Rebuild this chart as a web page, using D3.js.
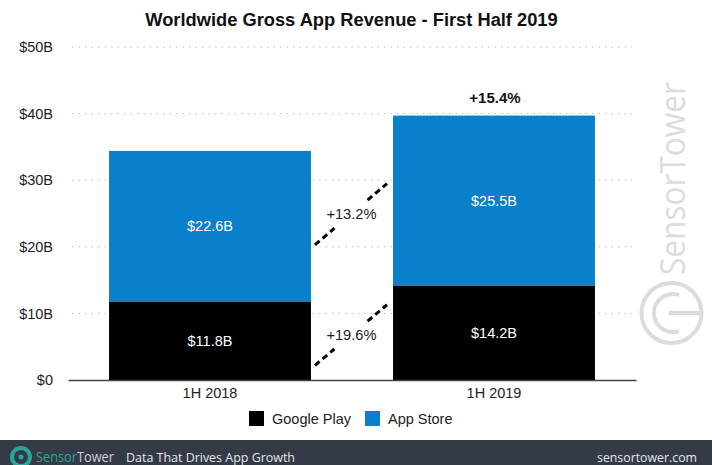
<!DOCTYPE html>
<html>
<head>
<meta charset="utf-8">
<script src="https://cdn.jsdelivr.net/npm/d3@7"></script>
<style>
    html, body { margin: 0; padding: 0; background: #fff; overflow: hidden; }
    text { font-family: "Liberation Sans", Arial, sans-serif; }
</style>
</head>
<body>
<div id="chart"></div>
<script>
const periods = ["1H 2018", "1H 2019"];
const seriesNames = ["Google Play", "App Store"];
const googlePlay = [11.8, 14.2];
const appStore = [22.6, 25.5];
const yTicks = [0, 10, 20, 30, 40, 50];
const growthTotal = "+15.4%";
const growthLabels = ["+19.6%", "+13.2%"];
// start and end of each growth connector, in $B
const connectorValues = [[2.2, 11.3], [20.3, 29.5]];
const connectorLabelValues = [6.8, 25];

const width = 712;
const height = 465;
const margin = { top: 47, bottom: 85, left: 68, right: 76 };
const colors = { "Google Play": "#000000", "App Store": "#0a7fcb" };

const svg = d3.select("#chart").append("svg")
    .attr("width", width)
    .attr("height", height);

const xScale = d3.scaleBand()
    .domain(periods)
    .range([margin.left, width - margin.right])
    .paddingInner(0.289)
    .paddingOuter(0.1445);

const yScale = d3.scaleLinear()
    .domain([0, 50])
    .range([height - margin.bottom, margin.top]);

// watermark
const mark = svg.append("g").attr("fill", "none").attr("stroke", "#dcdcdc");
mark.append("circle").attr("cx", 671.5).attr("cy", 313).attr("r", 30).attr("stroke-width", 4);
mark.append("path")
    .attr("d", "M679 295 A19 19 0 1 0 679 331")
    .attr("stroke-width", 4);
mark.append("path")
    .attr("d", "M671 313 H701")
    .attr("stroke-width", 4);
mark.append("circle").attr("cx", 671).attr("cy", 313).attr("r", 2.5).attr("fill", "#dcdcdc").attr("stroke", "none");
svg.append("text")
    .attr("transform", "translate(685,275) rotate(-90)")
    .attr("fill", "#dcdcdc")
    .attr("textLength", 193)
    .attr("lengthAdjust", "spacingAndGlyphs")
    .style("font-family", "'Open Sans', sans-serif")
    .style("font-size", "35px")
    .text("SensorTower");

// grid
svg.append("g").selectAll("line")
    .data(yTicks.filter(d => d > 0))
    .join("line")
    .attr("x1", margin.left + 4)
    .attr("x2", width - margin.right - 4)
    .attr("y1", d => yScale(d))
    .attr("y2", d => yScale(d))
    .attr("stroke", "#bdbdbd")
    .attr("stroke-width", 1)
    .attr("stroke-dasharray", "1.5 5");

// y axis labels
const yAxis = d3.axisLeft(yScale)
    .tickValues(yTicks)
    .tickSize(0)
    .tickPadding(15)
    .tickFormat(d => `$${d}${d === 0 ? "" : "B"}`);

svg.append("g")
    .attr("transform", `translate(${margin.left},0)`)
    .call(yAxis)
    .call(g => g.select(".domain").remove())
    .selectAll("text")
    .attr("fill", "#222")
    .style("font-size", "14.5px");

// stacked bars
const rows = periods.map((p, i) => ({ period: p, "Google Play": googlePlay[i], "App Store": appStore[i] }));
const stacked = d3.stack().keys(seriesNames)(rows);

const layers = svg.append("g").selectAll("g")
    .data(stacked)
    .join("g")
    .attr("fill", d => colors[d.key]);

layers.selectAll("rect")
    .data(d => d)
    .join("rect")
    .attr("x", d => xScale(d.data.period))
    .attr("width", xScale.bandwidth())
    .attr("y", d => yScale(d[1]))
    .attr("height", d => yScale(d[0]) - yScale(d[1]));

layers.selectAll("text")
    .data(d => d)
    .join("text")
    .attr("x", d => xScale(d.data.period) + xScale.bandwidth() / 2)
    .attr("y", d => yScale((d[0] + d[1]) / 2) + 5)
    .attr("text-anchor", "middle")
    .attr("fill", "#fff")
    .style("font-size", "14.5px")
    .text(d => `$${(d[1] - d[0]).toFixed(1)}B`);

// x axis
const xAxis = d3.axisBottom(xScale).tickSize(0).tickPadding(8);
svg.append("g")
    .attr("transform", `translate(0,${yScale(0)})`)
    .call(xAxis)
    .call(g => g.select(".domain").attr("stroke", "#444").attr("stroke-width", 1.5))
    .selectAll("text")
    .attr("fill", "#222")
    .style("font-size", "14.5px");

// growth connectors, broken around the label
const connectorLeft = xScale(periods[0]) + xScale.bandwidth() + 4;
const connectorRight = xScale(periods[1]) - 6;
const connectorX = d3.scaleLinear().domain([0, 1]).range([connectorLeft, connectorRight]);
const connectorParts = [[0, 0.27], [0.73, 1]];

connectorValues.forEach((vals, i) => {
    const connectorY = d3.scaleLinear().domain([0, 1]).range(vals.map(yScale));
    svg.append("g").selectAll("line")
        .data(connectorParts)
        .join("line")
        .attr("x1", d => connectorX(d[0]))
        .attr("x2", d => connectorX(d[1]))
        .attr("y1", d => connectorY(d[0]))
        .attr("y2", d => connectorY(d[1]))
        .attr("stroke", "#000")
        .attr("stroke-width", 3)
        .attr("stroke-dasharray", "6 4");
    svg.append("text")
        .attr("x", (connectorLeft + connectorRight) / 2 + 0.5)
        .attr("y", yScale(connectorLabelValues[i]) + 5)
        .attr("text-anchor", "middle")
        .attr("fill", "#222")
        .style("font-size", "14.7px")
        .text(growthLabels[i]);
});

// total growth
svg.append("text")
    .attr("x", xScale(periods[1]) + xScale.bandwidth() / 2 + 1)
    .attr("y", yScale(googlePlay[1] + appStore[1]) - 13)
    .attr("text-anchor", "middle")
    .attr("font-weight", "bold")
    .attr("fill", "#111")
    .style("font-size", "15px")
    .text(growthTotal);

// title
svg.append("text")
    .attr("x", 351.5)
    .attr("y", 26)
    .attr("text-anchor", "middle")
    .attr("font-weight", "bold")
    .attr("fill", "#111")
    .style("font-size", "18.3px")
    .text("Worldwide Gross App Revenue - First Half 2019");

// legend
const legendX = d3.scaleOrdinal().domain(seriesNames).range([249, 365]);
const legend = svg.append("g").selectAll("g")
    .data(seriesNames)
    .join("g")
    .attr("transform", d => `translate(${legendX(d)},411)`);
legend.append("rect")
    .attr("width", 15)
    .attr("height", 15)
    .attr("fill", d => colors[d]);
legend.append("text")
    .attr("x", 23)
    .attr("y", 12.5)
    .attr("fill", "#222")
    .style("font-size", "14.5px")
    .text(d => d);

// footer
const footer = svg.append("g").attr("transform", "translate(0,440)");
footer.append("rect").attr("width", width).attr("height", 25).attr("fill", "#343a46");
footer.append("circle").attr("cx", 21).attr("cy", 17).attr("r", 9).attr("fill", "none").attr("stroke", "#27a69a").attr("stroke-width", 4);
footer.append("circle").attr("cx", 21).attr("cy", 17).attr("r", 2.5).attr("fill", "#27a69a");
const brand = footer.append("text")
    .attr("x", 36)
    .attr("y", 22)
    .attr("textLength", 78)
    .attr("lengthAdjust", "spacingAndGlyphs")
    .style("font-family", "'Open Sans', sans-serif")
    .style("font-size", "14px");
brand.append("tspan").attr("fill", "#27a69a").text("Sensor");
brand.append("tspan").attr("fill", "#cfd2d6").text("Tower");
footer.append("text")
    .attr("x", 126)
    .attr("y", 22)
    .attr("textLength", 169)
    .attr("lengthAdjust", "spacingAndGlyphs")
    .attr("fill", "#e6e7e9")
    .style("font-family", "'Open Sans', sans-serif")
    .style("font-size", "13.5px")
    .text("Data That Drives App Growth");
footer.append("text")
    .attr("x", 597)
    .attr("y", 22)
    .attr("textLength", 100)
    .attr("lengthAdjust", "spacingAndGlyphs")
    .attr("fill", "#e6e7e9")
    .style("font-family", "'Open Sans', sans-serif")
    .style("font-size", "13.5px")
    .text("sensortower.com");
</script>
</body>
</html>
